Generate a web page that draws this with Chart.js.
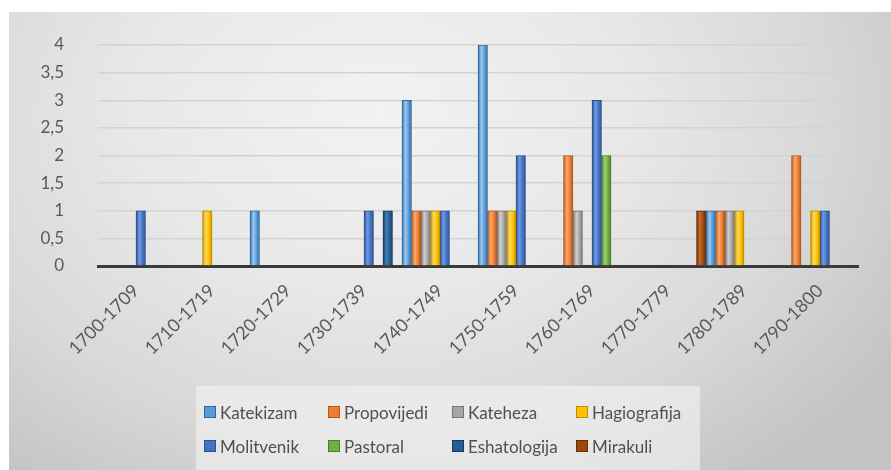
<!DOCTYPE html>
<html>
<head>
<meta charset="utf-8">
<title>Vrste djela po desetljecima</title>
<script src="https://cdn.jsdelivr.net/npm/chart.js@4/dist/chart.umd.min.js"></script>
<style>
  html, body { margin: 0; padding: 0; background: #fff; }
  #wrap { position: relative; width: 891px; height: 470px; overflow: hidden; }
  #bg {
    position: absolute; left: 9px; top: 12px; right: 0; bottom: 0;
    background: radial-gradient(ellipse 70% 100% at 42% 22%, #f2f2f2 0%, #e8e8e8 40%, #d8d8d8 72%, #c3c3c3 100%);
  }
  #chart-decades { position: absolute; left: 0; top: 0; }
  #legend {
    position: absolute; left: 196px; top: 386px; width: 504px; height: 84px;
    background: rgba(244, 244, 244, 0.6);
    box-sizing: border-box; padding: 16px 0 0 8px;
    display: grid; grid-template-columns: 124px 124px 124px 124px; grid-auto-rows: 34px;
    font-family: Lato, "Open Sans", sans-serif; font-size: 17px; color: #505050;
  }
  #legend .item { display: flex; align-items: center; height: 20px; white-space: nowrap; }
  #legend .box { width: 10px; height: 10px; margin-right: 4px; border: 1px solid; }
</style>
</head>
<body>
<div id="wrap">
  <div id="bg"></div>
  <canvas id="chart-decades" width="891" height="470"></canvas>
  <div id="legend"></div>
</div>
<script>
'use strict';

// categories and tick labels
var decades = ["1700-1709", "1710-1719", "1720-1729", "1730-1739", "1740-1749",
               "1750-1759", "1760-1769", "1770-1779", "1780-1789", "1790-1800"];
var yTicks = [0, 0.5, 1, 1.5, 2, 2.5, 3, 3.5, 4];

// series values (number of works per decade)
var katekizam    = [0, 0, 1, 0, 3, 4, 0, 0, 1, 0];
var propovijedi  = [0, 0, 0, 0, 1, 1, 2, 0, 1, 2];
var kateheza     = [0, 0, 0, 0, 1, 1, 1, 0, 1, 0];
var hagiografija = [0, 1, 0, 0, 1, 1, 0, 0, 1, 1];
var molitvenik   = [1, 0, 0, 1, 1, 2, 3, 0, 0, 1];
var pastoral     = [0, 0, 0, 0, 0, 0, 2, 0, 0, 0];
var eshatologija = [0, 0, 0, 1, 0, 0, 0, 0, 0, 0];
var mirakuli     = [0, 0, 0, 0, 0, 0, 0, 1, 0, 0];

// [label, data, base, light, dark]
var series = [
  ["Katekizam",    katekizam,    '#5b9bd5', '#9ccaf2', '#2f6aa3'],
  ["Propovijedi",  propovijedi,  '#ed7d31', '#f9aa70', '#b55618'],
  ["Kateheza",     kateheza,     '#a5a5a5', '#cfcfcf', '#777777'],
  ["Hagiografija", hagiografija, '#ffc000', '#ffdc55', '#c08f00'],
  ["Molitvenik",   molitvenik,   '#4472c4', '#7199e0', '#29508f'],
  ["Pastoral",     pastoral,     '#70ad47', '#9bd172', '#4b7d2c'],
  ["Eshatologija", eshatologija, '#255e91', '#4180b8', '#143a5e'],
  ["Mirakuli",     mirakuli,     '#9e480e', '#c66f30', '#6a2e06']
];

var fontFamily = 'Lato, "Open Sans", sans-serif';
var textColor = '#595959';

//--- cylinder-ish shading across each bar
function barShade(s) {
  return function (ctx) {
    var chart = ctx.chart;
    var xs = chart.scales && chart.scales.x;
    if (ctx.type !== 'data' || !xs || !chart.chartArea) {
      return s[2];
    }
    var cw = xs.width / decades.length;
    var bw = cw / series.length;
    var left = xs.getPixelForValue(ctx.dataIndex) - cw / 2 + ctx.datasetIndex * bw;
    var g = chart.ctx.createLinearGradient(left, 0, left + bw, 0);
    g.addColorStop(0, s[4]);
    g.addColorStop(0.35, s[3]);
    g.addColorStop(0.7, s[2]);
    g.addColorStop(1, s[4]);
    return g;
  };
}

function decades_bar_chart() {
  var config = {
    type: 'bar',
    data: {
      labels: decades,
      datasets: series.map(function (s) {
        return {
          label: s[0],
          data: s[1],
          backgroundColor: barShade(s),
          borderColor: s[4],
          borderWidth: 1,
          categoryPercentage: 1,
          barPercentage: 1
        };
      })
    },
    options: {
      responsive: false,
      animation: false,
      layout: { padding: { left: 10, right: 33, top: 45, bottom: 0 } },
      plugins: {
        legend: { display: false },
        tooltip: { enabled: false }
      },
      scales: {
        x: {
          grid: { display: false, drawTicks: false },
          border: { display: true, color: '#3a3a3a', width: 3 },
          ticks: {
            minRotation: 45,
            maxRotation: 45,
            padding: 14,
            color: textColor,
            font: { family: fontFamily, size: 18 }
          },
          afterFit: function (scale) { scale.height = 204; }
        },
        y: {
          min: 0,
          max: 4,
          afterBuildTicks: function (scale) {
            scale.ticks = yTicks.map(function (v) { return { value: v }; });
          },
          grid: { color: '#d3d3d3', lineWidth: 1.5, drawTicks: false },
          border: { display: false },
          ticks: {
            padding: 34,
            color: textColor,
            font: { family: fontFamily, size: 17 },
            callback: function (v) { return String(v).replace('.', ','); }
          },
          afterFit: function (scale) { scale.width = 88; }
        }
      }
    }
  };
  var ctx = document.getElementById("chart-decades").getContext("2d");
  window.chartDecades = new Chart(ctx, config);
}

//--- legend, four columns like the original
function build_legend() {
  var el = document.getElementById('legend');
  series.forEach(function (s) {
    var item = document.createElement('div');
    item.className = 'item';
    var box = document.createElement('span');
    box.className = 'box';
    box.style.background = s[2];
    box.style.borderColor = s[4];
    var txt = document.createElement('span');
    txt.textContent = s[0];
    item.appendChild(box);
    item.appendChild(txt);
    el.appendChild(item);
  });
}

decades_bar_chart();
build_legend();
</script>
</body>
</html>
